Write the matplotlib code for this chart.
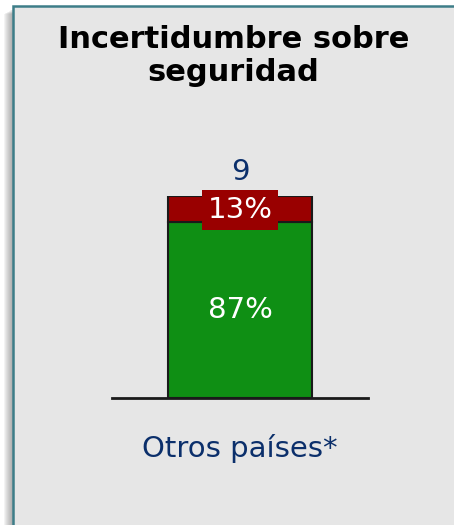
import matplotlib.pyplot as plt
from matplotlib.patches import Rectangle

# data
category = "Otros países*"
n_total = 9
pct_green = 87
pct_red = 13
title = "Incertidumbre sobre\nseguridad"

W, H = 454, 525
fig = plt.figure(figsize=(W / 100, H / 100), dpi=100)
fig.patch.set_facecolor("white")

# panel frame with a soft shadow on the left
for i in range(8):
    fig.patches.append(Rectangle(((4 + i) / W, -0.1), 1.2, 1.1 - (14 - i * 0.6) / H,
                                 transform=fig.transFigure, facecolor="#606060",
                                 edgecolor="none", alpha=0.07, zorder=-3))
fig.patches.append(Rectangle((13 / W, -0.1), 1.2, 1.1 - 6 / H,
                             transform=fig.transFigure, facecolor="#e6e6e6",
                             edgecolor="#3d7d88", linewidth=1.8, zorder=-2))

fig.text(0.5 * (13 + W) / W, 1 - 56 / H, title, ha="center", va="center",
         fontsize=22, fontweight="bold", color="black", linespacing=1.2,
         family="DejaVu Sans")

ax = fig.add_axes([112 / W, 1 - 398 / H, 256 / W, 202 / H])
ax.set_zorder(2)
ax.set_facecolor("none")
ax.set_xlim(-0.5, 0.5)
ax.set_ylim(0, 100)
for s in ["top", "left", "right"]:
    ax.spines[s].set_visible(False)
ax.spines["bottom"].set_linewidth(2)
ax.spines["bottom"].set_color("#1a1a1a")
ax.set_xticks([])
ax.set_yticks([])

bw = 0.56
ax.bar(0, pct_green, width=bw, color="#0f8f14", edgecolor="#1a1a1a", linewidth=1.5, zorder=2)
ax.bar(0, pct_red, bottom=pct_green, width=bw, color="#990000", edgecolor="#1a1a1a",
       linewidth=1.5, zorder=2)

ax.text(0, pct_green / 2, f"{pct_green}%", ha="center", va="center", color="white",
        fontsize=21, zorder=3)
ax.text(0, pct_green + pct_red / 2 - 0.5, f"{pct_red}%", ha="center", va="center",
        color="white", fontsize=21, zorder=3,
        bbox=dict(boxstyle="square,pad=0.2", facecolor="#990000", edgecolor="none"))
ax.text(0, 100 + 12, str(n_total), ha="center", va="center", color="#0b2f6b",
        fontsize=21, clip_on=False)
ax.text(0, -25, category, ha="center", va="center", color="#0b2f6b",
        fontsize=21, clip_on=False)

fig.savefig("out.png", dpi=100, facecolor=fig.get_facecolor())
